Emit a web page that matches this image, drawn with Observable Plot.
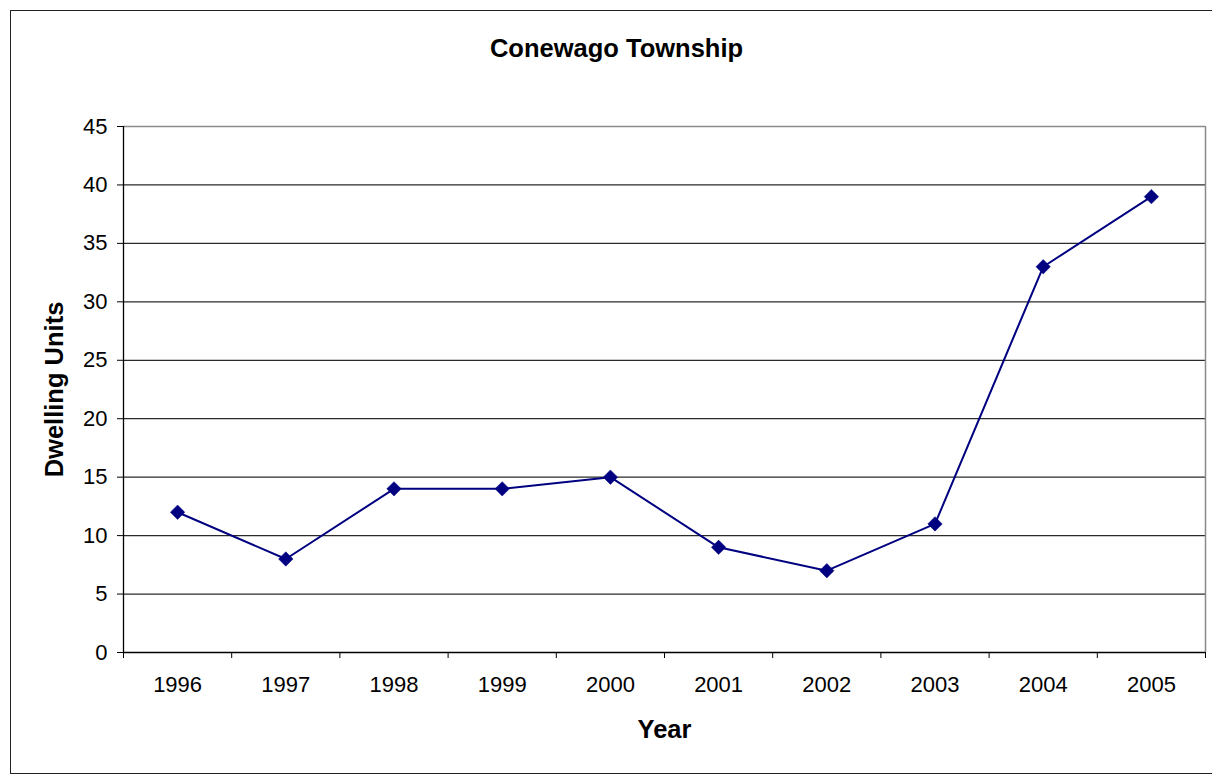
<!DOCTYPE html>
<html>
<head>
<meta charset="utf-8">
<script src="https://cdn.jsdelivr.net/npm/d3@7"></script>
<script src="https://cdn.jsdelivr.net/npm/@observablehq/plot@0.6"></script>
<style>
  html, body { margin: 0; padding: 0; background: #fff; overflow: hidden; }
  #wrap { position: relative; width: 1212px; height: 775px; }
  #chart svg { display: block; }
  #border { position: absolute; left: 10px; top: 10px; width: 1222px; height: 764px;
            border: 1.5px solid #222; box-sizing: border-box; pointer-events: none; }
</style>
</head>
<body>
<div id="wrap">
  <div id="chart"></div>
  <div id="border"></div>
</div>
<script>
const title = "Conewago Township";
const xLabel = "Year";
const yLabel = "Dwelling Units";
const years = [1996, 1997, 1998, 1999, 2000, 2001, 2002, 2003, 2004, 2005];
const units = [12, 8, 14, 14, 15, 9, 7, 11, 33, 39];
const yTicks = [0, 5, 10, 15, 20, 25, 30, 35, 40, 45];

const data = years.map((year, i) => ({year, units: units[i]}));
const xMin = years[0] - 0.5;
const xMax = years[years.length - 1] + 0.5;
const boundaries = [xMin, ...years.map(y => y + 0.5)];
const gridLines = yTicks.filter(t => t > 0 && t < 45);

const font = "'Liberation Sans', Arial, sans-serif";
const navy = "#000080";

const chart = Plot.plot({
  width: 1212,
  height: 775,
  marginLeft: 123,
  marginRight: 7,
  marginTop: 126,
  marginBottom: 123,
  style: {fontFamily: font, fontSize: "22px", color: "#000", background: "#fff"},
  x: {type: "linear", domain: [xMin, xMax]},
  y: {domain: [0, 45]},
  marks: [
    Plot.ruleY(gridLines, {stroke: "#2a2a2a", strokeWidth: 1.2}),
    Plot.ruleY([45], {stroke: "#8a8a8a", strokeWidth: 1.5}),
    Plot.ruleX([xMax], {stroke: "#8a8a8a", strokeWidth: 1.5}),
    Plot.ruleX([xMin], {stroke: "#000", strokeWidth: 1.3}),
    Plot.ruleY([0], {stroke: "#000", strokeWidth: 1.3}),
    Plot.axisY({ticks: yTicks, tickSize: 6, tickPadding: 10, label: null, fontSize: 22, fill: "#000", stroke: "#000"}),
    Plot.axisX({ticks: boundaries, tickSize: 6, text: null, label: null, stroke: "#000"}),
    Plot.axisX({ticks: years, tickSize: 0, tickPadding: 24, tickFormat: d => String(d), label: null, fontSize: 22, fill: "#000"}),
    Plot.line(data, {x: "year", y: "units", stroke: navy, strokeWidth: 2}),
    Plot.dot(data, {x: "year", y: "units", symbol: "diamond2", r: 6.5, fill: navy, stroke: navy, strokeWidth: 0.5}),
    Plot.text([title], {frameAnchor: "top", lineAnchor: "middle", textAnchor: "middle", dx: -48, dy: -78, fontSize: 25.5, fontWeight: "bold", fill: "#000"}),
    Plot.text([xLabel], {frameAnchor: "bottom", lineAnchor: "middle", textAnchor: "middle", dy: 77, fontSize: 25.5, fontWeight: "bold", fill: "#000"}),
    Plot.text([yLabel], {frameAnchor: "left", lineAnchor: "middle", textAnchor: "middle", dx: -69, rotate: -90, fontSize: 25.5, fontWeight: "bold", fill: "#000"})
  ]
});
document.getElementById("chart").appendChild(chart);
</script>
</body>
</html>
